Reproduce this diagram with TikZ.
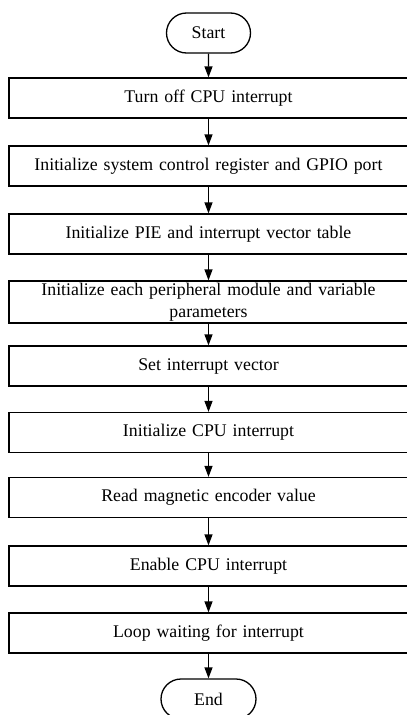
\documentclass[tikz,border=0pt]{standalone}
\usepackage{fontspec}
\setmainfont{Liberation Serif}
\usetikzlibrary{arrows.meta,shapes.misc}
\begin{document}
\begin{tikzpicture}[x=1pt,y=-1pt,
  every node/.style={font=\fontsize{17.8}{21.5}\selectfont},
  stepbox/.style={draw, line width=1.3pt, minimum width=399pt, minimum height=40pt, inner sep=0pt, align=center, text width=390pt},
  term/.style={draw, line width=1.3pt, rounded rectangle, minimum height=40pt, inner sep=0pt},
  arr/.style={line width=1.3pt, -{Triangle[length=11pt,width=8pt]}}]
\useasboundingbox (0,0) rectangle (407,715);
\node[term, minimum width=84pt] (s) at (208.5,33) {Start};
\node[stepbox] (b1) at (208.5,98) {Turn off CPU interrupt};
\node[stepbox] (b2) at (208.5,166) {Initialize system control register and GPIO port};
\node[stepbox] (b3) at (208.5,234) {Initialize PIE and interrupt vector table};
\node[stepbox, minimum height=42pt] (b4) at (208.5,302) {Initialize each peripheral module and variable\\parameters};
\node[stepbox] (b5) at (208.5,366) {Set interrupt vector};
\node[stepbox] (b6) at (208.5,432.5) {Initialize CPU interrupt};
\node[stepbox] (b7) at (208.5,497.5) {Read magnetic encoder value};
\node[stepbox] (b8) at (208.5,566) {Enable CPU interrupt};
\node[stepbox] (b9) at (208.5,633) {Loop waiting for interrupt};
\node[term, minimum width=95pt] (e) at (208.5,699) {End};
\draw[arr] (s) -- (b1);
\draw[arr] (b1) -- (b2);
\draw[arr] (b2) -- (b3);
\draw[arr] (b3) -- (b4);
\draw[arr] (b4) -- (b5);
\draw[arr] (b5) -- (b6);
\draw[arr] (b6) -- (b7);
\draw[arr] (b7) -- (b8);
\draw[arr] (b8) -- (b9);
\draw[arr] (b9) -- (e);
\end{tikzpicture}
\end{document}
